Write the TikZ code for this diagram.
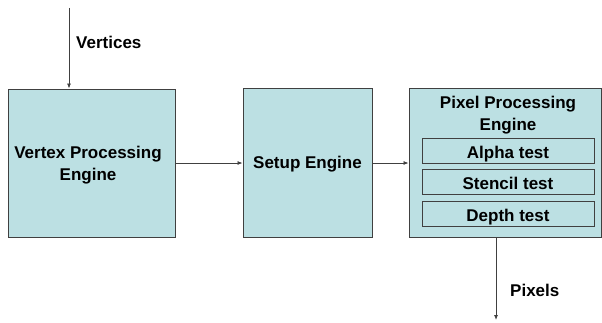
\documentclass[tikz,border=0pt]{standalone}
\usepackage{fontspec}
\setmainfont{Liberation Sans}
\usepackage{tikz}
\usetikzlibrary{arrows.meta}

\definecolor{boxfill}{HTML}{BCE0E3}
\definecolor{boxline}{HTML}{404040}

\begin{document}
\begin{tikzpicture}[x=1pt, y=1pt,
    engine/.style={draw=boxline, fill=boxfill, line width=0.9pt, inner sep=0pt,
        font=\fontsize{17}{22}\selectfont\bfseries, align=center},
    testbox/.style={draw=boxline, line width=0.9pt, inner sep=0pt,
        minimum width=172pt, minimum height=25pt, text height=15pt, text depth=0pt,
        font=\fontsize{17}{22}\selectfont\bfseries},
    flow/.style={draw=black!75, line width=0.8pt, -{Latex[length=5pt,width=4pt]}},
    lbl/.style={anchor=west, inner sep=0pt, font=\fontsize{17}{22}\selectfont\bfseries}]
            \useasboundingbox (0,0) rectangle (602,322);
            % Engines
            \node[engine, minimum width=167pt, minimum height=148pt] (vertex) at (91.5,159) {};
            \node[inner sep=0pt, align=center, font=\fontsize{17}{22}\selectfont\bfseries] (vtitle) at (88,157) {Vertex Processing\\Engine};
            \node[engine, minimum width=129pt, minimum height=149pt] (setup) at (307.5,159.5) {};
            \node[inner sep=0pt, font=\fontsize{17}{22}\selectfont\bfseries] (stitle) at (307.5,158) {Setup Engine};
            \node[engine, minimum width=192pt, minimum height=149pt] (pixel) at (505,159.5) {};
            \node[inner sep=0pt, align=center, font=\fontsize{17}{22}\selectfont\bfseries] (ptitle) at (508,207) {Pixel Processing\\Engine};
            % Tests
            \node[testbox] (alpha) at (508,171.5) {Alpha test};
            \node[testbox] (stencil) at (508,140.5) {Stencil test};
            \node[testbox] (depth) at (508,108.5) {Depth test};
            % Flow
            \coordinate (vin) at (69,314);
            \coordinate (pout) at (496,2);
            \draw[flow] (vin) -- (vin |- vertex.north);
            \draw[flow] (vertex.east |- 0,159) -- (setup.west |- 0,159);
            \draw[flow] (setup.east |- 0,159) -- (pixel.west |- 0,159);
            \draw[flow] (pout |- pixel.south) -- (pout);
            % Labels
            \node[lbl] (vlabel) at (76,280) {Vertices};
            \node[lbl] (plabel) at (510,32) {Pixels};
        \end{tikzpicture}
\end{document}
